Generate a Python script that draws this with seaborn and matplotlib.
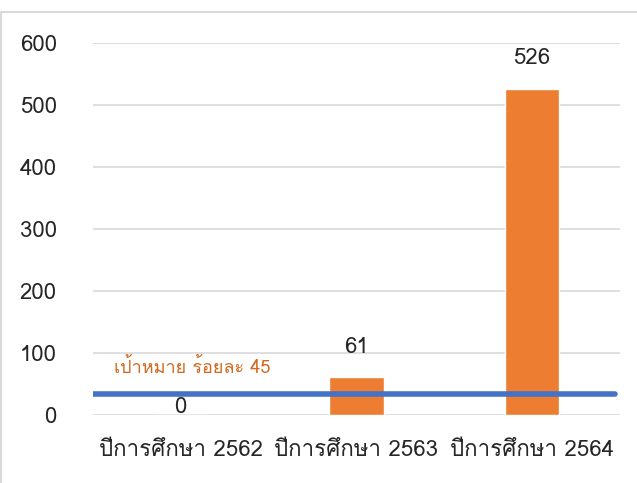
import matplotlib
matplotlib.use('Agg')
import matplotlib.pyplot as plt
import seaborn as sns
import pandas as pd
from matplotlib import font_manager
from matplotlib.patches import Rectangle

# Data
categories = ['ปีการศึกษา 2562', 'ปีการศึกษา 2563', 'ปีการศึกษา 2564']
values = [0, 61, 526]
target_value = 34
target_label = 'เป้าหมาย ร้อยละ 45'

BAR_COLOR = '#ED7D31'
LINE_COLOR = '#4472C4'
GRID_COLOR = '#D9D9D9'
TEXT_COLOR = '#262626'


def find_thai_font():
    # look for an installed font that has Thai glyphs
    for f in font_manager.fontManager.ttflist:
        try:
            cmap = font_manager.get_font(f.fname).get_charmap()
        except Exception:
            continue
        if ord('ก') in cmap:
            return f.name
    return None


sns.set_theme(style='white')
thai = find_thai_font()
families = ([thai] if thai else []) + ['DejaVu Sans']
plt.rcParams['font.family'] = families

df = pd.DataFrame({'cat': categories, 'val': values})

fig = plt.figure(figsize=(6.37, 4.83), dpi=100)
ax = fig.add_axes([0.146, 0.141, 0.827, 0.770])

sns.barplot(data=df, x='cat', y='val', color=BAR_COLOR, width=0.31,
            saturation=1, ax=ax)

ax.set_ylim(0, 600)
ax.set_yticks(range(0, 601, 100))
ax.yaxis.grid(True, color=GRID_COLOR, linewidth=1.2)
ax.set_axisbelow(True)
for s in ax.spines.values():
    s.set_visible(False)
ax.set_xlabel('')
ax.set_ylabel('')
ax.tick_params(axis='y', length=0, pad=26, labelsize=16, labelcolor=TEXT_COLOR)
ax.tick_params(axis='x', length=0, pad=18, labelsize=16, labelcolor=TEXT_COLOR)

# target line
ax.axhline(target_value, xmax=0.99, color=LINE_COLOR, linewidth=4, zorder=3)
ax.text(-0.38, target_value + 42, target_label, color='#D2691E', fontsize=13,
        va='center', ha='left')

# value labels
for i, v in enumerate(values):
    off = 30 if v > 0 else 7
    ax.annotate(str(v), (i, v), xytext=(0, off), textcoords='offset pixels',
                ha='center', va='center', fontsize=16, color=TEXT_COLOR)

# chart border
fig.patches.append(Rectangle((0.002, -0.1), 1.2, 1.075, transform=fig.transFigure,
                             fill=False, edgecolor=GRID_COLOR, linewidth=1.5))

fig.savefig('out.png', dpi=100)
